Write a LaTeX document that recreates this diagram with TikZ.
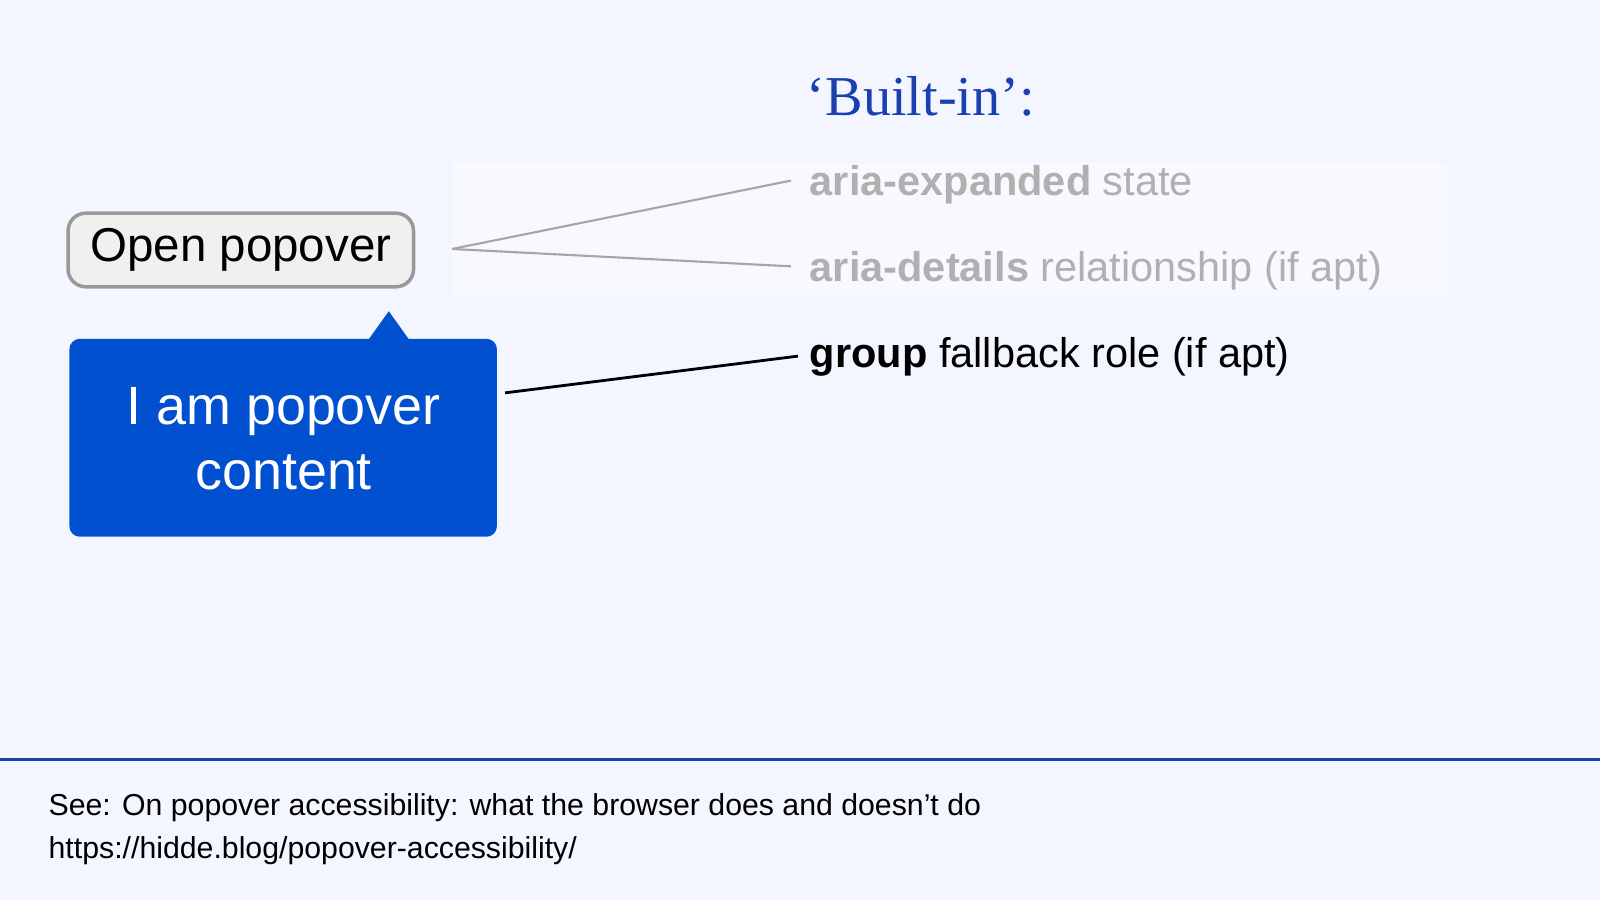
\documentclass[tikz,border=0pt]{standalone}
\usepackage{fontspec}
\setmainfont{Liberation Sans}
\newfontfamily\serifx{Liberation Serif}
\definecolor{bg}{HTML}{F3F6FE}
\definecolor{blu}{HTML}{0050D0}
\definecolor{dblu}{HTML}{1A3FB0}
\definecolor{grt}{HTML}{B0B0B0}
\begin{document}
\begin{tikzpicture}[x=0.0102cm,y=-0.0102cm,
  lbl/.style={anchor=base west,inner sep=0pt,font=\fontsize{11.8}{13}\selectfont}]
\fill[bg] (0,0) rectangle (1568,882);
\useasboundingbox (0,0) rectangle (1568,882);
\fill[white,opacity=0.35] (443,160) rectangle (1418,290);
\node[anchor=base west,inner sep=0pt,text=dblu,font=\serifx\fontsize{16}{20}\selectfont] (title) at (790,113) {‘Built-in’:};
\node[draw=gray!80,fill=gray!12,rounded corners=5pt,line width=1pt,minimum width=3.45cm,minimum height=0.735cm,
  font=\fontsize{13.5}{16}\selectfont] (btn) at (236,245) {Open popover};
\coordinate (bp) at (443,244);
\node[lbl,text=grt] (ae) at (793,192) {\textbf{aria-expanded} state};
\node[lbl,text=grt] (ad) at (793,276) {\textbf{aria-details} relationship (if apt)};
\node[lbl,text=black] (gr) at (793,360) {\textbf{group} fallback role (if apt)};
\coordinate (ae1) at (775,177);
\coordinate (ad1) at (775,261);
\coordinate (gr1) at (782,349);
\draw[gray!70,line width=0.6pt] (bp) -- (ae1);
\draw[gray!70,line width=0.6pt] (bp) -- (ad1);
\fill[blu,rounded corners=3pt] (68,332) rectangle (487,526);
\fill[blu] (361,333) -- (381,305) -- (401,333) -- cycle;
\node[text=white,align=center,font=\fontsize{15.3}{18.5}\selectfont] (pop) at (278,430) {I am popover\\content};
\coordinate (pp) at (495,385);
\draw[black,line width=0.8pt] (pp) -- (gr1);
\draw[dblu,line width=0.8pt] (0,744) -- (1568,744);
\node[anchor=base west,inner sep=0pt,font=\fontsize{8.6}{10}\selectfont] (f1) at (47,799) {See: On popover accessibility: what the browser does and doesn’t do};
\node[anchor=base west,inner sep=0pt,font=\fontsize{8.6}{10}\selectfont] (f2) at (47,841) {https://hidde.blog/popover-accessibility/};
\end{tikzpicture}
\end{document}
